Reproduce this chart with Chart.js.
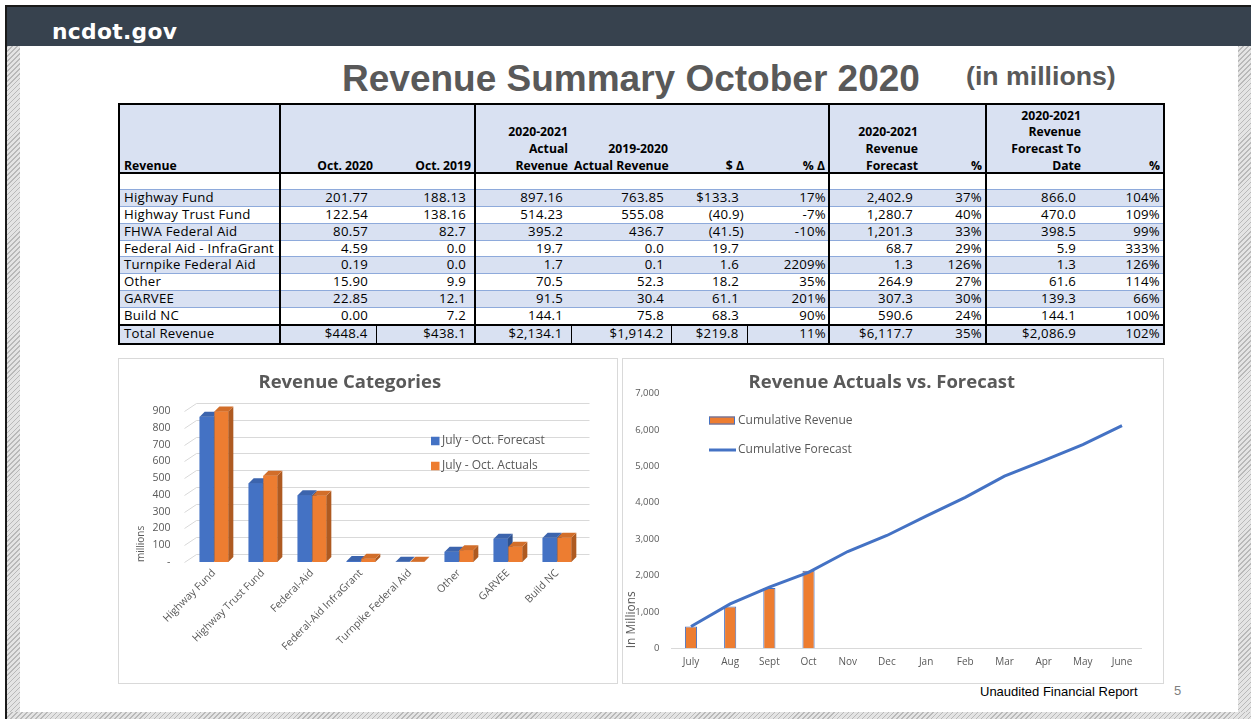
<!DOCTYPE html>
<html><head><meta charset="utf-8">
<script src="https://cdn.jsdelivr.net/npm/chart.js@4.4.1/dist/chart.umd.min.js"></script>
<style>
html,body{margin:0;padding:0;width:1251px;height:719px;overflow:hidden;background:#fff;}
body{position:relative;}
.frame{position:absolute;left:5px;top:5px;width:1246px;height:714px;border-left:2px solid #1a1a1a;border-top:2px solid #1a1a1a;box-sizing:border-box;}
.header{position:absolute;left:7px;top:7px;width:1244px;height:39px;background:#37424e;}
.logo{position:absolute;left:45px;top:12px;line-height:22px;color:#fff;font:700 21.8px 'DejaVu Sans';letter-spacing:0.3px;}
.hatch{position:absolute;background:repeating-linear-gradient(135deg,#b9b9b9 0px,#b9b9b9 1px,#e4e4e4 1px,#e4e4e4 3.5px);}
.title{position:absolute;left:342px;top:58px;line-height:37px;font:700 37px 'Liberation Sans';color:#595959;white-space:nowrap;}
.unit{position:absolute;left:966px;top:61px;line-height:26px;font:700 26.7px 'Liberation Sans';color:#595959;white-space:nowrap;}
.footer{position:absolute;left:980px;top:684px;font:13px 'Liberation Sans';color:#000;white-space:nowrap;}
.pnum{position:absolute;left:1174px;top:683px;font:13px 'Liberation Sans';color:#7f7f7f;}
.box{position:absolute;border:1px solid #d9d9d9;box-sizing:border-box;background:#fff;}
.box canvas{position:absolute;left:-1px;top:-1px;}
#tbl{position:absolute;left:118px;top:103px;width:1045px;border-collapse:collapse;table-layout:fixed;font-family:'Open Sans';font-size:13.2px;font-weight:400;letter-spacing:0.25px;color:#000;border:2px solid #000;}
#tbl td{padding:0 8px 0 3px;text-align:right;white-space:nowrap;overflow:hidden;height:15.9px;line-height:15.9px;border-top:1px solid #8eaadb;border-bottom:1px solid #8eaadb;}
#tbl tr.hdr td{height:66px;vertical-align:bottom;font-weight:700;font-size:12.2px;letter-spacing:0;line-height:16.7px;padding-right:3px;border-top:none;border-bottom:2px solid #000;}
#tbl tr.hdr td div{position:relative;top:2.5px;}
#tbl tr.blank td{height:15px;background:#fff;border-top:2px solid #000;}
#tbl tr.b td{background:#d9e1f2;}
#tbl tr.w td{background:#fff;}
#tbl tr.hdr td{background:#d9e1f2;}
#tbl tr.tot td{background:#d9e1f2;border-top:2px solid #000;border-bottom:none;height:16.5px;}
#tbl td.lab{text-align:left;padding-left:4px;}
#tbl td.g{border-left:2px solid #000;}
#tbl tr.tot td.bx{border-right:1px solid #000;}
</style></head>
<body>
<div class="frame"></div>
<div class="header"><div class="logo">ncdot.gov</div></div>
<div class="hatch" style="left:7px;top:46px;width:13px;height:673px;"></div>
<div class="hatch" style="left:1238px;top:46px;width:13px;height:673px;"></div>
<div class="hatch" style="left:7px;top:712px;width:1244px;height:7px;"></div>
<div class="title">Revenue Summary October 2020</div>
<div class="unit">(in millions)</div>
<table id="tbl"><colgroup id="cols"></colgroup><tbody id="tbody"></tbody></table>
<div class="box" style="left:118px;top:358px;width:500px;height:326px;"><canvas id="c1" width="499" height="325"></canvas></div>
<div class="box" style="left:622px;top:358px;width:542px;height:326px;"><canvas id="c2" width="541" height="325"></canvas></div>
<div class="footer">Unaudited Financial Report</div>
<div class="pnum">5</div>
<script>
// ---------- table data ----------
const tableHeaders = [['Revenue'], ['Oct. 2020'], ['Oct. 2019'], ['2020-2021', 'Actual', 'Revenue'], ['2019-2020', 'Actual Revenue'], ['$ Δ'], ['% Δ'], ['2020-2021', 'Revenue', 'Forecast'], ['%'], ['2020-2021', 'Revenue', 'Forecast To', 'Date'], ['%']];
const rowLabels = ['Highway Fund', 'Highway Trust Fund', 'FHWA Federal Aid', 'Federal Aid - InfraGrant', 'Turnpike Federal Aid', 'Other', 'GARVEE', 'Build NC', 'Total Revenue'];
const oct2020 = ['201.77', '122.54', '80.57', '4.59', '0.19', '15.90', '22.85', '0.00', '$448.4'];
const oct2019 = ['188.13', '138.16', '82.7', '0.0', '0.0', '9.9', '12.1', '7.2', '$438.1'];
const actual2021 = ['897.16', '514.23', '395.2', '19.7', '1.7', '70.5', '91.5', '144.1', '$2,134.1'];
const actual2020 = ['763.85', '555.08', '436.7', '0.0', '0.1', '52.3', '30.4', '75.8', '$1,914.2'];
const dollarDelta = ['$133.3', '(40.9)', '(41.5)', '19.7', '1.6', '18.2', '61.1', '68.3', '$219.8'];
const pctDelta = ['17%', '-7%', '-10%', '', '2209%', '35%', '201%', '90%', '11%'];
const forecast2021 = ['2,402.9', '1,280.7', '1,201.3', '68.7', '1.3', '264.9', '307.3', '590.6', '$6,117.7'];
const forecastPct = ['37%', '40%', '33%', '29%', '126%', '27%', '30%', '24%', '35%'];
const forecastToDate = ['866.0', '470.0', '398.5', '5.9', '1.3', '61.6', '139.3', '144.1', '$2,086.9'];
const toDatePct = ['104%', '109%', '99%', '333%', '126%', '114%', '66%', '100%', '102%'];

// ---------- chart data ----------
const categories = ['Highway Fund', 'Highway Trust Fund', 'Federal-Aid', 'Federal-Aid InfraGrant', 'Turnpike Federal Aid', 'Other', 'GARVEE', 'Build NC'];
const forecastJulyOct = [866.0, 470.0, 398.5, 5.9, 1.3, 61.6, 139.3, 144.1];
const actualsJulyOct = [897.16, 514.23, 395.2, 19.7, 1.7, 70.5, 91.5, 144.1];
const months = ['July', 'Aug', 'Sept', 'Oct', 'Nov', 'Dec', 'Jan', 'Feb', 'Mar', 'Apr', 'May', 'June'];
const cumulativeRevenue = [600, 1150, 1660, 2134.1, null, null, null, null, null, null, null, null];
const cumulativeForecast = [600, 1220, 1680, 2086.9, 2660, 3100, 3630, 4150, 4730, 5160, 5600, 6117.7];

// ---------- build table ----------
(function () {
  const widths = [161, 96, 99, 96, 100, 76, 82, 92, 65, 98, 80];
  const groupStart = [1, 3, 7, 9];
  const numPad = [0, 8, 8, 8, 7, 8, 2, 8, 3, 8, 3];
  const boxed = [1, 2, 3, 4, 5];
  const cols = document.getElementById('cols');
  widths.forEach(w => { const c = document.createElement('col'); c.style.width = w + 'px'; cols.appendChild(c); });
  const tb = document.getElementById('tbody');
  function addRow(cls, cells, isHdr) {
    const tr = document.createElement('tr'); tr.className = cls;
    cells.forEach((txt, i) => {
      const td = document.createElement('td');
      if (isHdr) { const d = document.createElement('div'); d.innerHTML = txt.join('<br>'); td.appendChild(d); }
      else td.textContent = txt;
      if (i === 0) td.className = 'lab';
      if (groupStart.includes(i)) td.classList.add('g');
      if (cls === 'tot' && boxed.includes(i)) td.classList.add('bx');
      if (!isHdr && i > 0) {
        let p = numPad[i];
        if (i === 5 && /\)$/.test(txt)) p = 3;
        td.style.paddingRight = p + 'px';
      }
      tr.appendChild(td);
    });
    tb.appendChild(tr);
  }
  addRow('hdr', tableHeaders, true);
  addRow('blank', tableHeaders.map(() => ''), false);
  rowLabels.forEach((lab, r) => {
    const cls = r === rowLabels.length - 1 ? 'tot' : (r % 2 === 0 ? 'b' : 'w');
    addRow(cls, [lab, oct2020[r], oct2019[r], actual2021[r], actual2020[r], dollarDelta[r], pctDelta[r], forecast2021[r], forecastPct[r], forecastToDate[r], toDatePct[r]], false);
  });
})();

// ---------- charts ----------
Chart.defaults.font.family = "'Open Sans', sans-serif";
Chart.defaults.color = '#595959';

// Redraws each bar (front, side, top) in dataset order so later series sit in front.
const bar3d = {
  id: 'bar3d',
  afterDatasetsDraw(chart, args, opts) {
    if (!opts || !opts.enabled) return;
    const ctx = chart.ctx;
    const dx = opts.dx, dy = opts.dy;
    const n = chart.data.labels.length;
    for (let k = 0; k < n; k++) {
      chart.data.datasets.forEach((ds, di) => {
        const bar = chart.getDatasetMeta(di).data[k];
        if (!bar) return;
        const p = bar.getProps(['x', 'y', 'base', 'width'], true);
        const l = p.x - p.width / 2, r = p.x + p.width / 2;
        ctx.save();
        ctx.fillStyle = ds.backgroundColor;
        ctx.fillRect(l, p.y, p.width, p.base - p.y);
        ctx.fillStyle = ds.sideColor;
        ctx.beginPath(); ctx.moveTo(r, p.y); ctx.lineTo(r + dx, p.y - dy); ctx.lineTo(r + dx, p.base - dy); ctx.lineTo(r, p.base); ctx.closePath(); ctx.fill();
        ctx.fillStyle = ds.topColor;
        ctx.beginPath(); ctx.moveTo(l, p.y); ctx.lineTo(l + dx, p.y - dy); ctx.lineTo(r + dx, p.y - dy); ctx.lineTo(r, p.y); ctx.closePath(); ctx.fill();
        ctx.restore();
      });
    }
  }
};
const wall3d = {
  id: 'wall3d',
  beforeDatasetsDraw(chart, args, opts) {
    if (!opts || !opts.enabled) return;
    const { ctx, chartArea } = chart;
    const y = chart.scales.y;
    ctx.save(); ctx.strokeStyle = opts.color; ctx.lineWidth = 1;
    y.ticks.forEach(t => {
      const py = Math.round(y.getPixelForValue(t.value)) + 0.5;
      ctx.beginPath();
      ctx.moveTo(chartArea.left + opts.frontX, py);
      ctx.lineTo(chartArea.left + opts.frontX + opts.dx, py - opts.dy);
      ctx.lineTo(chartArea.right + opts.backX, py - opts.dy);
      ctx.stroke();
    });
    ctx.restore();
  }
};
const posLegend = {
  id: 'posLegend',
  afterDraw(chart, args, opts) {
    if (!opts || !opts.items) return;
    const ctx = chart.ctx;
    ctx.save();
    ctx.font = opts.font;
    ctx.textBaseline = 'middle';
    ctx.textAlign = 'left';
    opts.items.forEach(it => {
      const ds = chart.data.datasets[it.index];
      if (it.kind === 'box') {
        ctx.fillStyle = ds.backgroundColor;
        ctx.fillRect(it.x, it.y - it.h / 2, it.w, it.h);
        if (it.stroke) { ctx.strokeStyle = ds.borderColor; ctx.lineWidth = 1; ctx.strokeRect(it.x + 0.5, it.y - it.h / 2 + 0.5, it.w - 1, it.h - 1); }
      } else {
        ctx.strokeStyle = ds.borderColor; ctx.lineWidth = ds.borderWidth;
        ctx.beginPath(); ctx.moveTo(it.x, it.y); ctx.lineTo(it.x + it.w, it.y); ctx.stroke();
      }
      ctx.fillStyle = opts.color;
      ctx.fillText(ds.label, it.tx, it.y);
    });
    ctx.restore();
  }
};

new Chart(document.getElementById('c1'), {
  type: 'bar',
  data: {
    labels: categories,
    datasets: [
      { label: 'July - Oct. Forecast', data: forecastJulyOct, backgroundColor: '#4472c4', sideColor: '#2f528f', topColor: '#3c64ad', categoryPercentage: 0.6, barPercentage: 0.95 },
      { label: 'July - Oct. Actuals', data: actualsJulyOct, backgroundColor: '#ed7d31', sideColor: '#ae5a21', topColor: '#d26e2a', categoryPercentage: 0.6, barPercentage: 0.95 }
    ]
  },
  options: {
    responsive: false, animation: false, devicePixelRatio: 1,
    layout: { padding: { left: 0, right: 35.5, top: 0, bottom: 0 } },
    plugins: {
      legend: { display: false },
      tooltip: { enabled: false },
      title: { display: true, text: 'Revenue Categories', color: '#595959', font: { size: 18.5, weight: 'bold' }, padding: { top: 13.9, bottom: 16.9 } },
      bar3d: { enabled: true, dx: 5, dy: 5 },
      wall3d: { enabled: true, color: '#d9d9d9', frontX: -5, dx: 12, dy: 8, backX: 8 },
      posLegend: { font: "12px 'Open Sans'", color: '#595959', items: [
        { index: 0, kind: 'box', x: 313, y: 83, w: 8.5, h: 8.5, tx: 324 },
        { index: 1, kind: 'box', x: 313, y: 108, w: 8.5, h: 8.5, tx: 324 }
      ] }
    },
    scales: {
      x: {
        grid: { display: false, drawTicks: false }, border: { display: false },
        ticks: { autoSkip: false, maxRotation: 45, minRotation: 45, padding: 5, font: { size: 10.5 }, color: '#595959' },
        afterFit(s) { s.height = 121; }
      },
      y: {
        min: 0, max: 900,
        grid: { display: false, drawTicks: false }, border: { display: false },
        ticks: { stepSize: 100, padding: 19, font: { size: 10.5 }, color: '#595959', callback: v => v === 0 ? '-' : v },
        title: { display: true, text: 'millions', align: 'start', color: '#595959', font: { size: 10 }, padding: { top: 17, bottom: 0 } },
        afterFit(s) { s.width = 71.5; }
      }
    }
  },
  plugins: [bar3d, wall3d, posLegend]
});

new Chart(document.getElementById('c2'), {
  type: 'bar',
  data: {
    labels: months,
    datasets: [
      { type: 'line', label: 'Cumulative Forecast', data: cumulativeForecast, borderColor: '#4472c4', backgroundColor: '#4472c4', borderWidth: 3, pointRadius: 0, tension: 0, order: 0 },
      { type: 'bar', label: 'Cumulative Revenue', data: cumulativeRevenue, backgroundColor: '#ed7d31', borderColor: '#4472c4', borderWidth: 1, categoryPercentage: 1, barPercentage: 0.31, order: 1 }
    ]
  },
  options: {
    responsive: false, animation: false, devicePixelRatio: 1,
    layout: { padding: { left: 0, right: 21.4, top: 0, bottom: 0 } },
    plugins: {
      legend: { display: false },
      tooltip: { enabled: false },
      title: { display: true, text: 'Revenue Actuals vs. Forecast', color: '#595959', font: { size: 18.5, weight: 'bold' }, padding: { top: 13.4, bottom: 0 } },
      posLegend: { font: "12px 'Open Sans'", color: '#595959', items: [
        { index: 1, kind: 'box', stroke: true, x: 87, y: 62.5, w: 26, h: 8, tx: 116 },
        { index: 0, kind: 'line', x: 87, y: 92, w: 27, tx: 116 }
      ] }
    },
    scales: {
      x: {
        grid: { display: false, drawTicks: false }, border: { display: true, color: '#d9d9d9', width: 1 },
        ticks: { padding: 8, font: { size: 10 }, color: '#595959', maxRotation: 0, autoSkip: false },
        afterFit(s) { s.height = 34.7; }
      },
      y: {
        min: 0, max: 7000,
        grid: { display: false, drawTicks: false }, border: { display: false },
        ticks: { stepSize: 1000, padding: 12, font: { size: 9.5 }, color: '#595959', callback: v => v.toLocaleString('en-US') },
        title: { display: true, text: 'In Millions', align: 'start', color: '#595959', font: { size: 12 }, padding: { top: 2, bottom: 0 } },
        afterFit(s) { s.width = 49.4; }
      }
    }
  },
  plugins: [posLegend]
});
</script>
</body></html>
